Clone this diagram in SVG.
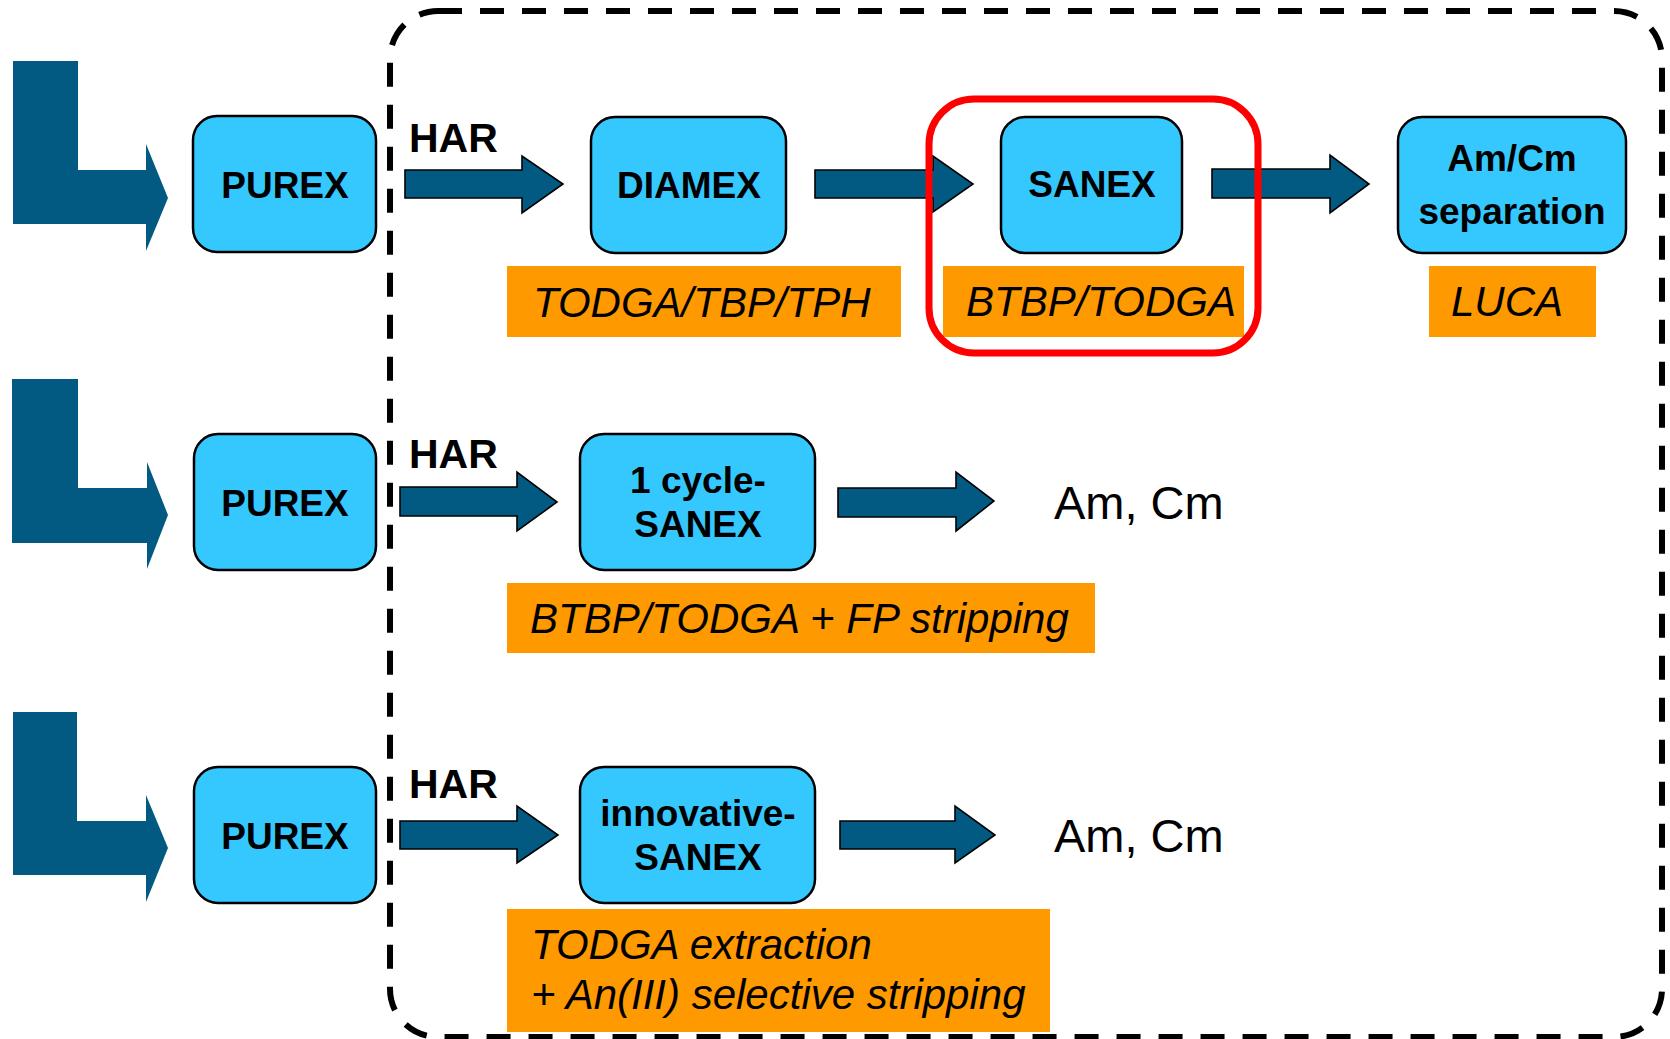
<svg xmlns="http://www.w3.org/2000/svg" width="1670" height="1039" viewBox="0 0 1670 1039">
<style>
.bg{fill:#fff}
.frame{fill:none;stroke:#000;stroke-width:6;stroke-dasharray:24 18}
.node{fill:#35C8FF;stroke:#000;stroke-width:2.5}
.lbl{fill:#FF9900}
.conn{fill:#025A82;stroke:#000;stroke-width:1.6;stroke-linejoin:miter}
.big{fill:#025A82}
.nt{font-family:"Liberation Sans",Arial,sans-serif;font-weight:bold;font-size:37px;fill:#000;text-anchor:middle}
.har{font-family:"Liberation Sans",Arial,sans-serif;font-weight:bold;font-size:41px;fill:#000}
.it{font-family:"Liberation Sans",Arial,sans-serif;font-style:italic;font-size:42px;fill:#000}
.out{font-family:"Liberation Sans",Arial,sans-serif;font-size:47px;fill:#000}
.hl{fill:none;stroke:#FF0000;stroke-width:7}
</style>
<rect class="bg" x="0" y="0" width="1670" height="1039"/>
<g id="frame">
<rect class="frame" x="390" y="11" width="1272" height="1026" rx="48" ry="48"/>
</g>
<g id="connectors">
<polygon class="big" points="13,61 78,61 78,170 146,170 146,144 168,198 146,251 146,224 13,224"/>
<polygon class="big" points="12,379 78,379 78,488 147,488 147,462 168,515 147,569 147,543 12,543"/>
<polygon class="big" points="13,712 77,712 77,821 146,821 146,795 168,848 146,902 146,875 13,875"/>
<polygon class="conn" points="405,170 522,170 522,156 563,184 522,213 522,198 405,198"/>
<polygon class="conn" points="815,170 933,170 933,156 973,184 933,212 933,198 815,198"/>
<polygon class="conn" points="1212,169 1330,169 1330,155 1369,184 1330,213 1330,198 1212,198"/>
<polygon class="conn" points="400,487 517,487 517,472 557,502 517,531 517,516 400,516"/>
<polygon class="conn" points="838,488 956,488 956,472 994,501 956,531 956,517 838,517"/>
<polygon class="conn" points="400,821 517,821 517,806 558,835 517,863 517,849 400,849"/>
<polygon class="conn" points="840,821 955,821 955,806 995,835 955,863 955,849 840,849"/>
<text class="har" x="409" y="152">HAR</text>
<text class="har" x="409" y="468">HAR</text>
<text class="har" x="409" y="798">HAR</text>
</g>
<g id="purex1">
<rect class="node" x="193" y="116" width="183" height="136" rx="24"/>
<text class="nt" x="285" y="198">PUREX</text>
</g>
<g id="diamex">
<rect class="node" x="591" y="117" width="195" height="136" rx="24"/>
<text class="nt" x="689" y="198">DIAMEX</text>
</g>
<g id="sanex">
<rect class="node" x="1001" y="117" width="181" height="136" rx="24"/>
<text class="nt" x="1092" y="197">SANEX</text>
</g>
<g id="amcm-separation">
<rect class="node" x="1398" y="117" width="228" height="136" rx="24"/>
<text class="nt" x="1512" y="171">Am/Cm</text>
<text class="nt" x="1512" y="224">separation</text>
</g>
<g id="label-todga-tbp-tph">
<rect class="lbl" x="507" y="266" width="394" height="71"/>
<text class="it" x="533" y="317">TODGA/TBP/TPH</text>
</g>
<g id="label-btbp-todga">
<rect class="lbl" x="943" y="266" width="301" height="71"/>
<text class="it" x="966" y="316">BTBP/TODGA</text>
</g>
<g id="label-luca">
<rect class="lbl" x="1429" y="266" width="167" height="71"/>
<text class="it" x="1451" y="316">LUCA</text>
</g>
<g id="purex2">
<rect class="node" x="194" y="434" width="182" height="136" rx="24"/>
<text class="nt" x="285" y="516">PUREX</text>
</g>
<g id="one-cycle-sanex">
<rect class="node" x="580" y="434" width="235" height="136" rx="24"/>
<text class="nt" x="698" y="493">1 cycle-</text>
<text class="nt" x="698" y="537">SANEX</text>
</g>
<g id="out2">
<text class="out" x="1054" y="519">Am, Cm</text>
</g>
<g id="label-btbp-fp">
<rect class="lbl" x="507" y="583" width="588" height="70"/>
<text class="it" x="530" y="633">BTBP/TODGA + FP stripping</text>
</g>
<g id="purex3">
<rect class="node" x="194" y="767" width="182" height="136" rx="24"/>
<text class="nt" x="285" y="849">PUREX</text>
</g>
<g id="innovative-sanex">
<rect class="node" x="580" y="767" width="235" height="136" rx="24"/>
<text class="nt" x="698" y="826">innovative-</text>
<text class="nt" x="698" y="870">SANEX</text>
</g>
<g id="out3">
<text class="out" x="1054" y="852">Am, Cm</text>
</g>
<g id="label-todga-extraction">
<rect class="lbl" x="507" y="909" width="543" height="123"/>
<text class="it" x="531" y="959">TODGA extraction</text>
<text class="it" x="531" y="1009">+ An(III) selective stripping</text>
</g>
<g id="highlight">
<rect class="hl" x="929" y="99" width="329" height="254" rx="45" ry="45"/>
</g>
</svg>
